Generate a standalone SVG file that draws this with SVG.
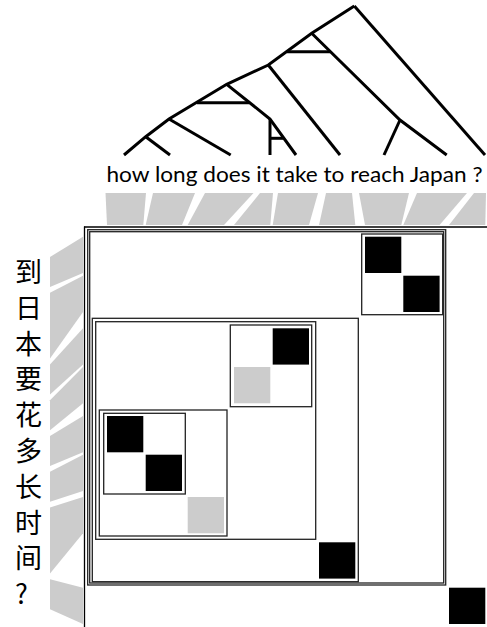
<svg xmlns="http://www.w3.org/2000/svg" width="487" height="627" viewBox="0 0 487 627">
<style>
.tree{fill:none;stroke:#000;stroke-width:3;stroke-linecap:butt;stroke-linejoin:miter}
.link{fill:#cccccc;stroke:none}
.box{fill:none;stroke:#222;stroke-width:1.3}
.axis{fill:none;stroke:#000;stroke-width:1.3}
.blk{fill:#000}
.gry{fill:#cccccc}
.en{font-family:Lato,"Open Sans","Liberation Sans",sans-serif;font-size:22px;fill:#000}
.zh{font-family:"Noto Sans CJK SC","Noto Sans",sans-serif;font-size:27px;fill:#000}
</style>
<rect width="487" height="627" fill="#fff"/>
<g id="tree">
<path class="tree" d="M354.3,6 L311.7,33.3 L268.3,65 L226.7,84.3 L169,119 L145.7,136.7 L124,155"/>
<path class="tree" d="M354.3,6 L485,155"/>
<path class="tree" d="M145.7,136.7 L170,155"/>
<path class="tree" d="M169,119 L230.7,155"/>
<path class="tree" d="M226.7,84.3 L270,119 L296,155"/>
<path class="tree" d="M270,119 L270,155"/>
<path class="tree" d="M270,138.3 L283,138.3"/>
<path class="tree" d="M268.3,65 L340,155"/>
<path class="tree" d="M311.7,33.3 L400,120 L446.7,155"/>
<path class="tree" d="M400,120 L384,155"/>
<path class="tree" d="M287,51.7 L330,51.7"/>
<path class="tree" d="M197,102.7 L249,102.7"/>
</g>
<g id="english">
<text class="en" x="106.5" y="182" textLength="376" lengthAdjust="spacingAndGlyphs">how long does it take to reach Japan ?</text>
</g>
<g id="chinese">
<text class="zh" x="15" y="282">到</text>
<text class="zh" x="15" y="317.8">日</text>
<text class="zh" x="15" y="353.6">本</text>
<text class="zh" x="15" y="389.4">要</text>
<text class="zh" x="15" y="425.2">花</text>
<text class="zh" x="15" y="461">多</text>
<text class="zh" x="15" y="496.8">长</text>
<text class="zh" x="15" y="532.6">时</text>
<text class="zh" x="15" y="568.4">间</text>
<text class="zh" x="15" y="604.2">?</text>
</g>
<g id="connectors">
<g id="links-top">
<polygon class="link" points="105.5,193 146,193 143.3,225 107,225"/>
<polygon class="link" points="153,193 195,193 182,225 145.7,225"/>
<polygon class="link" points="205,193 253.5,193 224,225 187.7,225"/>
<polygon class="link" points="260,193 273,193 270.3,225 234,225"/>
<polygon class="link" points="278,193 318,193 309,225 272.7,225"/>
<polygon class="link" points="326,193 352,193 355.3,225 319,225"/>
<polygon class="link" points="359,193 409,193 401.3,225 365,225"/>
<polygon class="link" points="417,193 467,193 439.6,225 403.3,225"/>
<polygon class="link" points="474,193 486,193 485.3,225 449,225"/>
</g>
<g id="links-left">
<polygon class="link" points="50,257 83,236.7 83,273 50,287"/>
<polygon class="link" points="50,292.8 83,275.7 83,312 50,358.6"/>
<polygon class="link" points="50,364.4 83,328.3 83,364.6 50,394.4"/>
<polygon class="link" points="50,400.2 83,367 83,403.3 50,430.2"/>
<polygon class="link" points="50,436 83,416 83,452.3 50,466"/>
<polygon class="link" points="50,471.8 83,454.7 83,491 50,501.8"/>
<polygon class="link" points="50,507.6 83,497 83,533.3 50,573.4"/>
<polygon class="link" points="50,579.2 83,587.7 83,624 50,609.2"/>
</g>
</g>
<g id="axes">
<line class="axis" x1="84" y1="227" x2="487" y2="227"/>
<line class="axis" x1="84.5" y1="226.4" x2="84.5" y2="627"/>
</g>
<g id="matrix">
<g id="box-root">
<rect class="box" x="87.7" y="229.7" width="358" height="355.3"/>
<rect class="box" x="89.7" y="231.7" width="354" height="351.3"/>
</g>
<g id="box-reach-japan">
<rect class="box" x="361.7" y="234" width="81" height="80.7"/>
<rect class="blk" x="365" y="236.7" width="36.3" height="36.3"/>
<rect class="blk" x="403.3" y="275.7" width="36.3" height="36.3"/>
</g>
<g id="box-rows3-8">
<rect class="box" x="92.3" y="318.3" width="266" height="263.4"/>
</g>
<g id="box-rows3-7">
<rect class="box" x="95.7" y="321.7" width="220" height="217.6"/>
</g>
<g id="box-take-it">
<rect class="box" x="230.3" y="325" width="81.4" height="81.7"/>
<rect class="blk" x="272.7" y="328.3" width="36.3" height="36.3"/>
<rect class="gry" x="234" y="367" width="36.3" height="36.3"/>
</g>
<g id="box-how-long-does">
<rect class="box" x="99.3" y="410" width="127.7" height="126"/>
<rect class="gry" x="187.7" y="497" width="36.3" height="36.3"/>
</g>
<g id="box-how-long">
<rect class="box" x="103.7" y="413.3" width="81.6" height="80.7"/>
<rect class="blk" x="107" y="416" width="36.3" height="36.3"/>
<rect class="blk" x="145.7" y="454.7" width="36.3" height="36.3"/>
</g>
<g id="cell-to">
<rect class="blk" x="319" y="542.3" width="36.3" height="36.3"/>
</g>
<g id="cell-q">
<rect class="blk" x="449" y="587.7" width="36.3" height="36.3"/>
</g>
</g>
</svg>
